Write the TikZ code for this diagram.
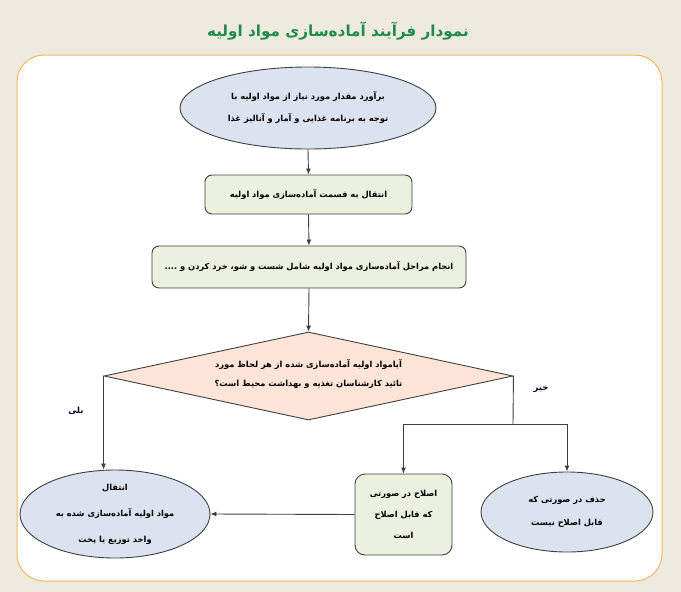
\documentclass[tikz,border=0pt]{standalone}
\usepackage{fontspec}
\usetikzlibrary{shapes.geometric,arrows.meta}
\TeXXeTstate=1
\newfontfamily\arabicfont[Script=Arabic]{DejaVu Sans}
\newcommand{\ar}[1]{{\arabicfont\bfseries\beginR #1\endR}}
\definecolor{bgc}{RGB}{238,234,224}
\definecolor{framec}{RGB}{244,183,90}
\definecolor{titlec}{RGB}{33,139,74}
\definecolor{ellc}{RGB}{220,227,240}
\definecolor{boxc}{RGB}{235,241,222}
\definecolor{diac}{RGB}{252,228,214}
\definecolor{linec}{RGB}{64,64,64}
\tikzset{
  ell/.style={draw=linec, line width=0.9pt, fill=ellc, ellipse, inner sep=0pt},
  stepbox/.style={draw=linec, line width=0.9pt, fill=boxc, rounded corners=7pt, align=center, inner sep=0pt, font=\fontsize{8.3}{21}\selectfont},
  dia/.style={draw=linec, line width=0.9pt, fill=diac, diamond, inner sep=0pt},
  txt/.style={align=center, font=\fontsize{8.3}{22}\selectfont, text=black},
  lbl/.style={font=\fontsize{8.5}{10}\selectfont, text=black!85!blue},
  arr/.style={draw=linec, line width=0.9pt, -{Latex[length=6pt,width=5pt]}},
  ln/.style={draw=linec, line width=0.9pt}
}
\begin{document}
\begin{tikzpicture}[x=1pt,y=-1pt]
\useasboundingbox (0,0) rectangle (681,592);
\fill[bgc] (0,0) rectangle (681,592);
\draw[framec, line width=1pt, fill=white, rounded corners=27pt] (17,55) rectangle (662,581);
\node[font=\fontsize{15.2}{17}\selectfont, text=titlec] (title) at (338,31) {\ar{نمودار فرآیند آماده‌سازی مواد اولیه}};

\node[ell, minimum width=256pt, minimum height=82pt] (e1) at (308,108) {};
\node[txt] (e1t) at (e1) {\ar{برآورد مقدار مورد نیاز از مواد اولیه با}\\\ar{توجه به برنامه غذایی و آمار و آنالیز غذا}};

\node[stepbox, minimum width=207pt, minimum height=39pt] (b2) at (308.5,194.5) {\ar{انتقال به  قسمت آماده‌سازی مواد اولیه}};

\node[stepbox, minimum width=314pt, minimum height=42pt] (b3) at (309,267) {\ar{انجام مراحل آماده‌سازی مواد اولیه شامل شست و شو، خرد کردن و ....}};

\node[dia, minimum width=409pt, minimum height=88pt] (d) at (308.5,376) {};
\node[txt, font=\fontsize{8.3}{19}\selectfont] (dt) at (308.5,374) {\ar{آیامواد اولیه آماده‌سازی شده از هر لحاظ مورد}\\\ar{تائید کارشناسان تغذیه و بهداشت محیط است؟}};

\node[ell, minimum width=190pt, minimum height=88pt] (e5) at (115,514) {};
\node[txt, font=\fontsize{8.3}{26}\selectfont] (e5t) at (e5) {\ar{انتقال}\\\ar{مواد اولیه آماده‌سازی شده به}\\\ar{واحد توزیع یا پخت}};

\node[stepbox, minimum width=97pt, minimum height=81pt, rounded corners=10pt] (b4) at (403.5,514.5) {\ar{اصلاح در صورتی}\\\ar{که قابل اصلاح}\\\ar{است}};

\node[ell, minimum width=172pt, minimum height=80pt] (e6) at (567,512) {};
\node[txt, font=\fontsize{8.3}{23}\selectfont] (e6t) at (e6) {\ar{حذف در صورتی که}\\\ar{قابل اصلاح نیست}};

\draw[arr] (e1.south) -- (b2.north);
\draw[arr] (b2.south) -- (b3.north);
\draw[arr] (b3.south) -- (d.north);
\draw[arr] (d.west) -- (d.west |- e5.north);
\coordinate (br) at (513,424);
\draw[ln] (d.east) -- (br);
\draw[arr] (br) -| (b4.north);
\draw[arr] (br) -| (e6.north);
\draw[arr] (b4.west) -- (e5.east);

\node[lbl] (yes) at (76,411) {\ar{بلی}};
\node[lbl] (no) at (541,389) {\ar{خیر}};
\end{tikzpicture}
\end{document}
